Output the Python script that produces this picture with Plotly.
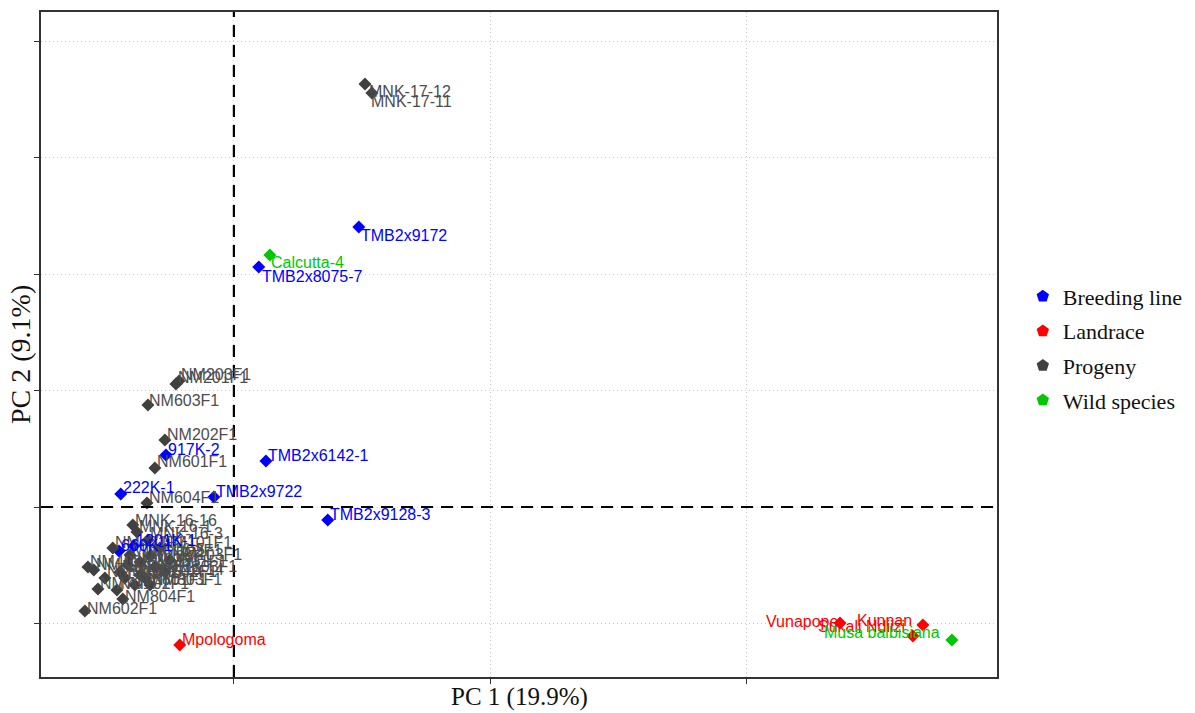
import plotly.graph_objects as go

# ---------------- data (PCA scores, arbitrary units) -------------
x_title = "PC 1 (19.9%)"
y_title = "PC 2 (9.1%)"
x_ticks = [0, 1, 2]
y_ticks = [-1, 0, 1, 2, 3, 4]

breeding_names = ["TMB2x9172", "TMB2x8075-7", "TMB2x6142-1", "TMB2x9722", "TMB2x9128-3",
                  "917K-2", "222K-1", "660K-1", "1201K-1"]
breeding_pc1 = [0.487, 0.097, 0.125, -0.078, 0.366, -0.265, -0.441, -0.448, -0.390]
breeding_pc2 = [2.403, 2.060, 0.395, 0.086, -0.112, 0.446, 0.112, -0.378, -0.335]

landrace_names = ["Mpologoma", "Vunapope", "Kunnan", "Sukali Ndiizi"]
landrace_pc1 = [-0.211, 2.363, 2.686, 2.647]
landrace_pc2 = [-1.185, -0.996, -1.013, -1.107]

progeny_names = ["MNK-17-12", "MNK-17-11", "NM203F1", "NM201F1", "NM603F1", "NM202F1",
                 "NM601F1", "NM604F1", "MNK-16-16", "MNK-16-1", "MNK-16-3", "NM101F1",
                 "NM401F1", "MNK-16-5", "NM102F1", "NM103F1", "NM104F1", "NM302F1",
                 "NM301F1", "NM402F1", "NM403F1", "NM303F1", "NM501F1", "MNK-16-14",
                 "NM502F1", "NM503F1", "NM802F1", "NM801F1", "NM803F1", "NM701F1",
                 "NM702F1", "NM804F1", "NM602F1"]
progeny_pc1 = [0.511, 0.538, -0.214, -0.226, -0.335, -0.269, -0.308, -0.339, -0.394,
               -0.378, -0.335, -0.289, -0.472, -0.405, -0.327, -0.250, -0.366, -0.413,
               -0.308, -0.569, -0.546, -0.269, -0.444, -0.366, -0.347, -0.503, -0.425,
               -0.386, -0.327, -0.530, -0.456, -0.433, -0.581]
progeny_pc2 = [3.631, 3.554, 1.082, 1.056, 0.876, 0.575, 0.335, 0.034, -0.155, -0.215,
               -0.283, -0.352, -0.352, -0.412, -0.421, -0.455, -0.472, -0.498, -0.515,
               -0.515, -0.541, -0.558, -0.558, -0.584, -0.609, -0.609, -0.609, -0.670,
               -0.670, -0.704, -0.712, -0.790, -0.893]

wild_names = ["Calcutta-4", "Musa balbisiana"]
wild_pc1 = [0.140, 2.799]
wild_pc2 = [2.163, -1.142]

groups = ["Breeding line", "Landrace", "Progeny", "Wild species"]

# ---------------- styles ----------------
marker_colors = {"Breeding line": "#0000FF", "Landrace": "#FF0000",
                 "Progeny": "#404040", "Wild species": "#00C800"}
text_colors = {"Breeding line": "#0000FF", "Landrace": "#FF0000",
               "Progeny": "#4D4D4D", "Wild species": "#00C800"}

# label placement (xanchor, xshift px, yshift px)
default_place = ("left", 0, 6)
label_place = {
    "TMB2x9172": ("left", 0, -8), "TMB2x8075-7": ("left", 1, -9),
    "Calcutta-4": ("left", -1, -7), "MNK-17-12": ("left", 2, -7),
    "MNK-17-11": ("left", -3, -9), "NM602F1": ("left", 0, 3),
    "NM804F1": ("left", 0, 3), "MNK-16-16": ("left", 0, 5),
    "NM603F1": ("left", -1, 4),
    "Vunapope": ("right", 0, 2), "Kunnan": ("right", -9, 5),
    "Sukali Ndiizi": ("right", -6, 9), "Musa balbisiana": ("right", -10, 8),
}

data = {
    "Breeding line": (breeding_names, breeding_pc1, breeding_pc2),
    "Landrace": (landrace_names, landrace_pc1, landrace_pc2),
    "Progeny": (progeny_names, progeny_pc1, progeny_pc2),
    "Wild species": (wild_names, wild_pc1, wild_pc2),
}

fig = go.Figure()

for g in groups:
    names, xs, ys = data[g]
    fig.add_trace(go.Scatter(
        x=xs, y=ys, mode="markers", name=g, showlegend=False, text=names,
        marker=dict(symbol="diamond", size=10, color=marker_colors[g]),
    ))

# legend entries with pentagon keys
for i, g in enumerate(groups):
    fig.add_trace(go.Scatter(
        x=[None], y=[None], mode="markers", name=g, legendgroup=str(i),
        marker=dict(symbol="pentagon", size=13, color=marker_colors[g]),
    ))

annotations = []
for g in ["Progeny", "Breeding line", "Landrace", "Wild species"]:
    names, xs, ys = data[g]
    for n, x, y in zip(names, xs, ys):
        anchor, dx, dy = label_place.get(n, default_place)
        annotations.append(dict(
            x=x, y=y, xref="x", yref="y", text=n, showarrow=False,
            xanchor=anchor, yanchor="middle", xshift=dx, yshift=dy,
            font=dict(family="Liberation Sans, Arial", size=16, color=text_colors[g]),
        ))

annotations.append(dict(
    x=0.5, y=0, xref="paper", yref="paper", text=x_title, showarrow=False,
    xanchor="center", yanchor="top", yshift=-4,
    font=dict(family="Liberation Serif, Times New Roman", size=25, color="#111111"),
))
annotations.append(dict(
    x=0, y=0.485, xref="paper", yref="paper", text=y_title, showarrow=False,
    xanchor="right", yanchor="middle", xshift=-3, textangle=-90,
    font=dict(family="Liberation Serif, Times New Roman", size=28, color="#111111"),
))

fig.add_vline(x=0, line=dict(color="black", width=2.2, dash="12px,8px"))
fig.add_hline(y=0, line=dict(color="black", width=2.2, dash="12px,8px"))

axis_common = dict(
    showticklabels=False, ticks="outside", ticklen=5, tickwidth=1, tickcolor="#333333",
    showline=True, linecolor="#333333", linewidth=1.5, mirror=True,
    showgrid=True, gridcolor="#C8C8C8", gridwidth=1, griddash="1px,3px",
    zeroline=False,
)

fig.update_layout(
    width=1195, height=713,
    margin=dict(l=41, r=198, t=12, b=36, autoexpand=False),
    plot_bgcolor="white", paper_bgcolor="white",
    xaxis=dict(range=[-0.752, 2.975], tickvals=x_ticks, **axis_common),
    yaxis=dict(range=[-1.459, 4.249], tickvals=y_ticks, **axis_common),
    annotations=annotations,
    legend=dict(
        x=1.027, y=0.494, xanchor="left", yanchor="middle",
        font=dict(family="Liberation Serif, Times New Roman", size=22, color="#111111"),
        tracegroupgap=3, bgcolor="rgba(0,0,0,0)",
    ),
)

fig.write_html("out.html")
